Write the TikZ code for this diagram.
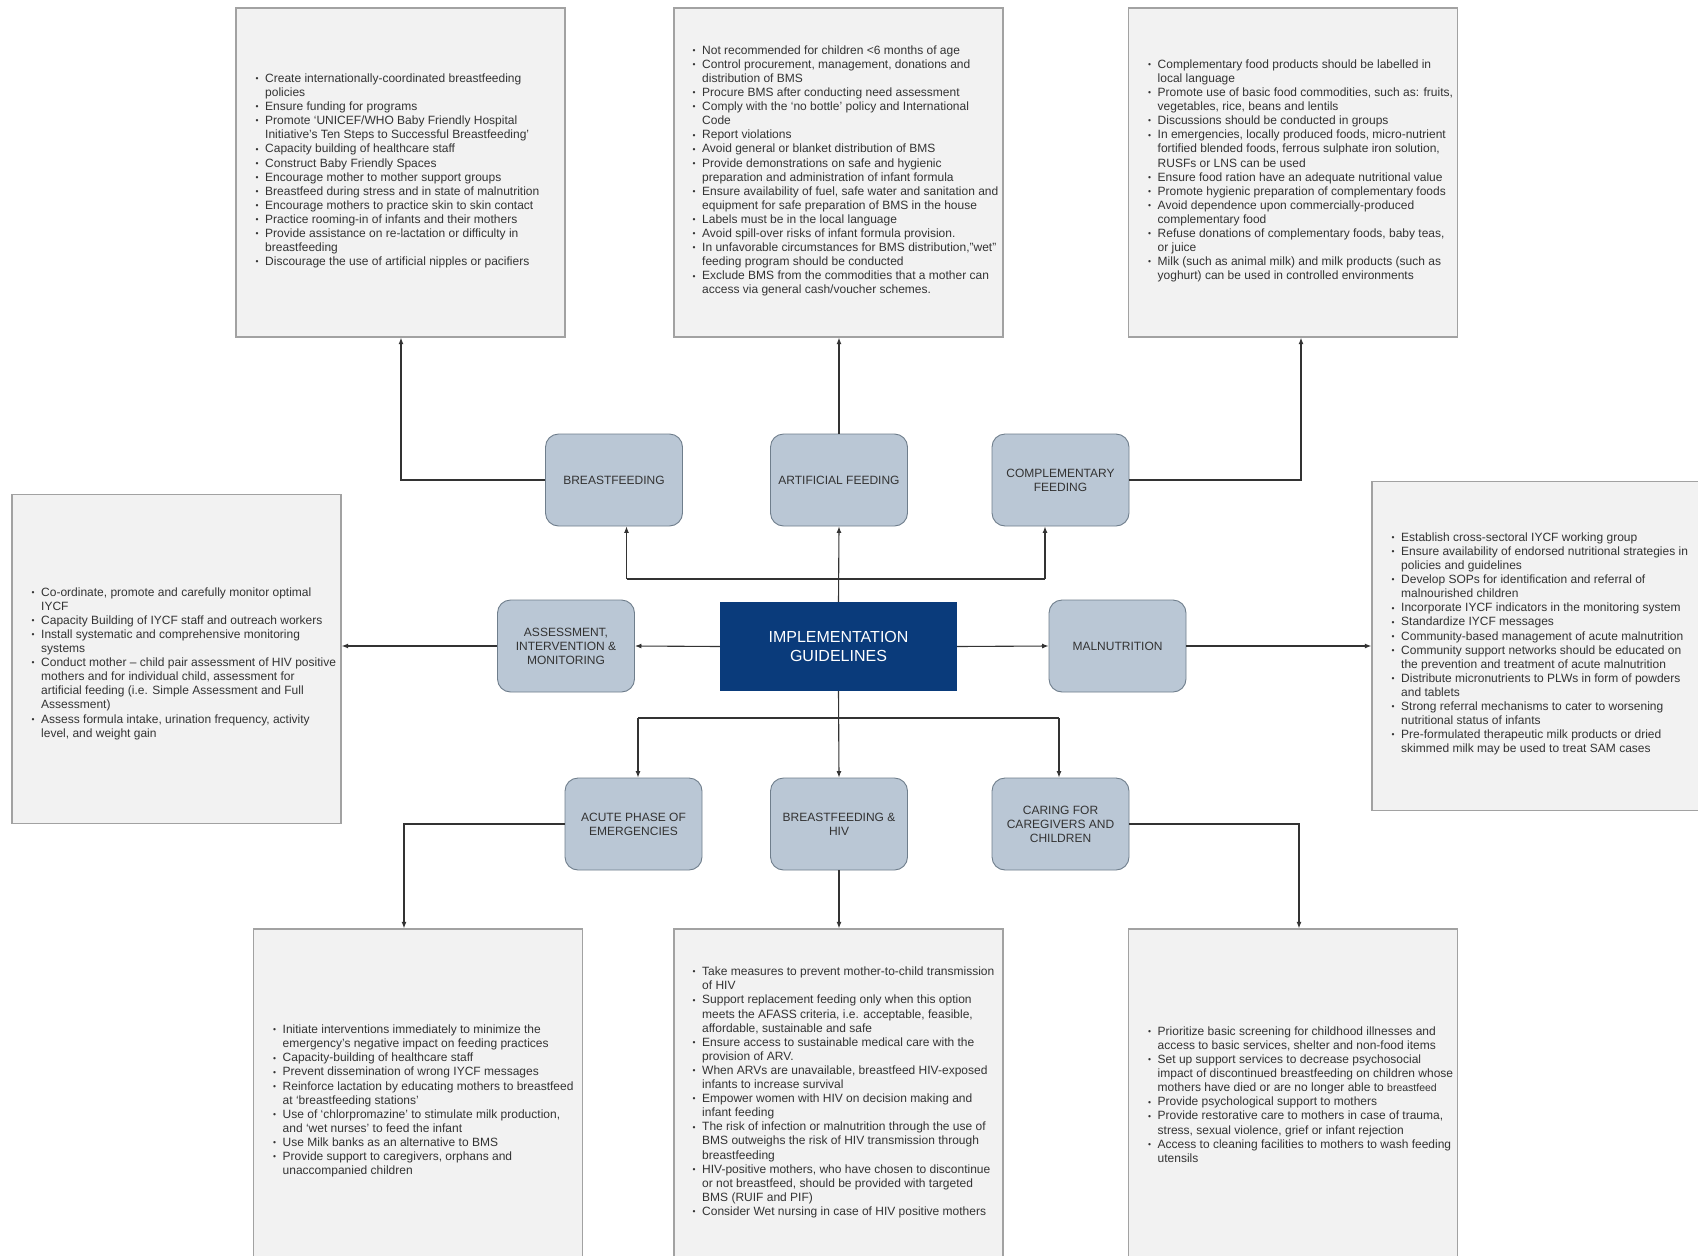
\documentclass[tikz,border=0pt]{standalone}
\usepackage{fontspec}
\setmainfont{Liberation Sans}
\usetikzlibrary{arrows.meta}

\definecolor{boxfill}{HTML}{F2F2F2}
\definecolor{boxline}{HTML}{A2A2A2}
\definecolor{topicfill}{HTML}{BAC7D5}
\definecolor{topicline}{HTML}{6F7E8C}
\definecolor{implblue}{HTML}{0A3B7B}
\definecolor{wire}{HTML}{333333}
\definecolor{txt}{HTML}{333333}

% hanging bullet for list items
\newcommand\bl{\llap{\raisebox{0.8pt}{\fontsize{8.5}{8.5}\selectfont\textbullet}\hspace{6.5pt}}}

\begin{document}
\begin{tikzpicture}[x=1pt,y=-1pt,
  infobox/.style={draw=boxline,fill=boxfill,line width=1.4pt,minimum width=329pt,minimum height=329pt,inner sep=0pt},
  listtext/.style={anchor=west,align=left,inner sep=0pt,text=txt,font=\fontsize{12}{14.1}\selectfont},
  topic/.style={draw=topicline,fill=topicfill,line width=0.9pt,rounded corners=13pt,minimum width=137pt,minimum height=92pt,align=center,text=txt,font=\fontsize{12}{14.1}\selectfont,inner sep=2pt},
  hub/.style={fill=implblue,minimum width=237pt,minimum height=89pt,align=center,text=white,font=\fontsize{16}{18.4}\selectfont},
  wireline/.style={draw=wire,line width=1.1pt},
  conn/.style={wireline,-{Latex[length=6.5pt,width=5pt]}}]

\useasboundingbox (0,0) rectangle (1698,1256);
\fill[white] (0,0) rectangle (1698,1256);
\clip (0,0) rectangle (1698,1256);

% ---------- information boxes ----------
\node[infobox] (tlbox) at (400.5,172.5) {};
\node[infobox] (tmbox) at (838.5,172.5) {};
\node[infobox] (trbox) at (1293,172.5) {};
\node[infobox] (lbox)  at (176.5,659) {};
\node[infobox] (rbox)  at (1536.5,646) {};
\node[infobox] (blbox) at (418,1093.5) {};
\node[infobox] (bmbox) at (838.5,1093.5) {};
\node[infobox] (brbox) at (1293,1093.5) {};

\node[listtext] (tltext) at (265,171) {%
\bl Create internationally-coordinated breastfeeding\\
policies\\
\bl Ensure funding for programs\\
\bl Promote ‘UNICEF/WHO Baby Friendly Hospital\\
Initiative’s Ten Steps to Successful Breastfeeding’\\
\bl Capacity building of healthcare staff\\
\bl Construct Baby Friendly Spaces\\
\bl Encourage mother to mother support groups\\
\bl Breastfeed during stress and in state of malnutrition\\
\bl Encourage mothers to practice skin to skin contact\\
\bl Practice rooming-in of infants and their mothers\\
\bl Provide assistance on re-lactation or difficulty in\\
breastfeeding\\
\bl Discourage the use of artificial nipples or pacifiers};

\node[listtext] (tmtext) at (702,171) {%
\bl Not recommended for children <6 months of age\\
\bl Control procurement, management, donations and\\
distribution of BMS\\
\bl Procure BMS after conducting need assessment\\
\bl Comply with the ‘no bottle’ policy and International\\
Code\\
\bl Report violations\\
\bl Avoid general or blanket distribution of BMS\\
\bl Provide demonstrations on safe and hygienic\\
preparation and administration of infant formula\\
\bl Ensure availability of fuel, safe water and sanitation and\\
equipment for safe preparation of BMS in the house\\
\bl Labels must be in the local language\\
\bl Avoid spill-over risks of infant formula provision.\\
\bl In unfavorable circumstances for BMS distribution,"wet"\\
feeding program should be conducted\\
\bl Exclude BMS from the commodities that a mother can\\
access via general cash/voucher schemes.};

\node[listtext] (trtext) at (1157.5,171) {%
\bl Complementary food products should be labelled in\\
local language\\
\bl Promote use of basic food commodities, such as: fruits,\\
vegetables, rice, beans and lentils\\
\bl Discussions should be conducted in groups\\
\bl In emergencies, locally produced foods, micro-nutrient\\
fortified blended foods, ferrous sulphate iron solution,\\
RUSFs or LNS can be used\\
\bl Ensure food ration have an adequate nutritional value\\
\bl Promote hygienic preparation of complementary foods\\
\bl Avoid dependence upon commercially-produced\\
complementary food\\
\bl Refuse donations of complementary foods, baby teas,\\
or juice\\
\bl Milk (such as animal milk) and milk products (such as\\
yoghurt) can be used in controlled environments};

\node[listtext] (ltext) at (41,663.5) {%
\bl Co-ordinate, promote and carefully monitor optimal\\
IYCF\\
\bl Capacity Building of IYCF staff and outreach workers\\
\bl Install systematic and comprehensive monitoring\\
systems\\
\bl Conduct mother – child pair assessment of HIV positive\\
mothers and for individual child, assessment for\\
artificial feeding (i.e. Simple Assessment and Full\\
Assessment)\\
\bl Assess formula intake, urination frequency, activity\\
level, and weight gain};

\node[listtext] (rtext) at (1401,644) {%
\bl Establish cross-sectoral IYCF working group\\
\bl Ensure availability of endorsed nutritional strategies in\\
policies and guidelines\\
\bl Develop SOPs for identification and referral of\\
malnourished children\\
\bl Incorporate IYCF indicators in the monitoring system\\
\bl Standardize IYCF messages\\
\bl Community-based management of acute malnutrition\\
\bl Community support networks should be educated on\\
the prevention and treatment of acute malnutrition\\
\bl Distribute micronutrients to PLWs in form of powders\\
and tablets\\
\bl Strong referral mechanisms to cater to worsening\\
nutritional status of infants\\
\bl Pre-formulated therapeutic milk products or dried\\
skimmed milk may be used to treat SAM cases};

\node[listtext] (bltext) at (282.5,1101) {%
\bl Initiate interventions immediately to minimize the\\
emergency’s negative impact on feeding practices\\
\bl Capacity-building of healthcare staff\\
\bl Prevent dissemination of wrong IYCF messages\\
\bl Reinforce lactation by educating mothers to breastfeed\\
at ‘breastfeeding stations’\\
\bl Use of ‘chlorpromazine’ to stimulate milk production,\\
and ‘wet nurses’ to feed the infant\\
\bl Use Milk banks as an alternative to BMS\\
\bl Provide support to caregivers, orphans and\\
unaccompanied children};

\node[listtext] (bmtext) at (702,1092.5) {%
\bl Take measures to prevent mother-to-child transmission\\
of HIV\\
\bl Support replacement feeding only when this option\\
meets the AFASS criteria, i.e. acceptable, feasible,\\
affordable, sustainable and safe\\
\bl Ensure access to sustainable medical care with the\\
provision of ARV.\\
\bl When ARVs are unavailable, breastfeed HIV-exposed\\
infants to increase survival\\
\bl Empower women with HIV on decision making and\\
infant feeding\\
\bl The risk of infection or malnutrition through the use of\\
BMS outweighs the risk of HIV transmission through\\
breastfeeding\\
\bl HIV-positive mothers, who have chosen to discontinue\\
or not breastfeed, should be provided with targeted\\
BMS (RUIF and PIF)\\
\bl Consider Wet nursing in case of HIV positive mothers};

\node[listtext] (brtext) at (1157.5,1094.5) {%
\bl Prioritize basic screening for childhood illnesses and\\
access to basic services, shelter and non-food items\\
\bl Set up support services to decrease psychosocial\\
impact of discontinued breastfeeding on children whose\\
mothers have died or are no longer able to {\fontsize{10.5}{14.1}\selectfont breastfeed}\\
\bl Provide psychological support to mothers\\
\bl Provide restorative care to mothers in case of trauma,\\
stress, sexual violence, grief or infant rejection\\
\bl Access to cleaning facilities to mothers to wash feeding\\
utensils};

% ---------- central hub and topics ----------
\node[hub] (impl) at (838.5,646.5) {IMPLEMENTATION\\GUIDELINES};

\node[topic] (bf)     at (614,480)  {BREASTFEEDING};
\node[topic] (af)     at (839,480)  {ARTIFICIAL FEEDING};
\node[topic] (cf)     at (1060.5,480) {COMPLEMENTARY\\FEEDING};
\node[topic] (assess) at (566,646)  {ASSESSMENT,\\INTERVENTION \&\\MONITORING};
\node[topic] (maln)   at (1117.5,646) {MALNUTRITION};
\node[topic] (acute)  at (633.5,824) {ACUTE PHASE OF\\EMERGENCIES};
\node[topic] (bfhiv)  at (839,824)  {BREASTFEEDING \&\\HIV};
\node[topic] (caring) at (1060.5,824) {CARING FOR\\CAREGIVERS AND\\CHILDREN};

% ---------- hub to topics ----------
\coordinate (upL) at (626.5,579);
\coordinate (upR) at (1045,579);
\coordinate (dnL) at (638,718);
\coordinate (dnR) at (1059,718);

\draw[conn] (impl.north) -- (af.south);
\draw[wireline] (upL) -- (upR);
\draw[conn] (upL) -- (upL |- bf.south);
\draw[conn] (upR) -- (upR |- cf.south);

\draw[conn] (impl.west) -- (assess.east);
\draw[conn] (impl.east) -- (maln.west);

\draw[conn] (impl.south) -- (bfhiv.north);
\draw[wireline] (dnL) -- (dnR);
\draw[conn] (dnL) -- (dnL |- acute.north);
\draw[conn] (dnR) -- (dnR |- caring.north);

% ---------- topics to information boxes ----------
\coordinate (tlx) at (401,0);
\coordinate (trx) at (1301,0);
\coordinate (blx) at (404,0);
\coordinate (brx) at (1299,0);

\draw[conn] (bf.west) -| (tlx |- tlbox.south);
\draw[conn] (af.north) -- (af.north |- tmbox.south);
\draw[conn] (cf.east) -| (trx |- trbox.south);
\draw[conn] (assess.west) -- (assess.west -| lbox.east);
\draw[conn] (maln.east) -- (maln.east -| rbox.west);
\draw[conn] (acute.west) -| (blx |- blbox.north);
\draw[conn] (bfhiv.south) -- (bfhiv.south |- bmbox.north);
\draw[conn] (caring.east) -| (brx |- brbox.north);

\end{tikzpicture}
\end{document}
